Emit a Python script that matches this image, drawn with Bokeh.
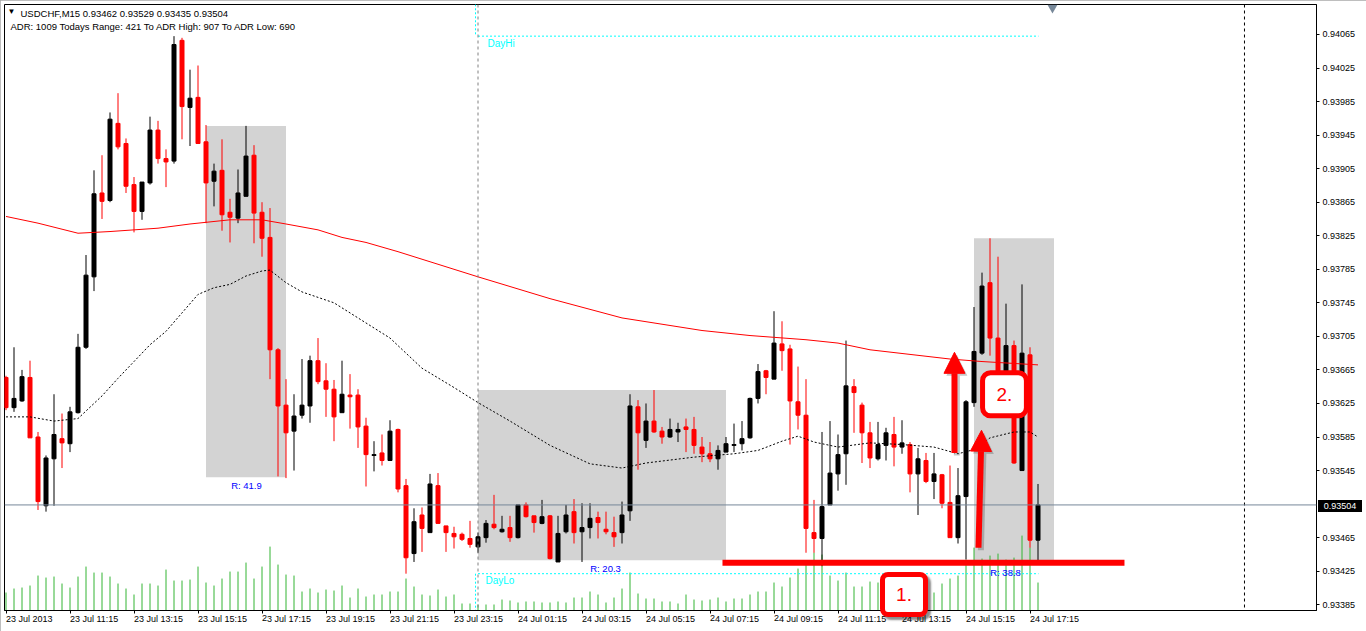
import numpy as np
from bokeh.plotting import figure
from bokeh.layouts import column
from bokeh.models import (ColumnDataSource, FixedTicker, PrintfTickFormatter, Range1d,
                          Span, Label, Arrow, NormalHead, Div)
from bokeh.core.properties import value
from bokeh.embed import file_html
from bokeh.resources import INLINE

FONT = "Liberation Sans"

# ---------------- data (USDCHF M15, 23 Jul 2013 09:15 -> 24 Jul 2013 17:30) ----------------
bar_open = [0.93656, 0.93620, 0.93628, 0.93656, 0.93585, 0.93503, 0.93559, 0.93583, 0.93577, 0.93614,
            0.93692, 0.93776, 0.93876, 0.93867, 0.93959, 0.93935, 0.93886, 0.93854, 0.93888, 0.93951,
            0.93917, 0.93914, 0.94058, 0.93978, 0.93990, 0.93937, 0.93890, 0.93903, 0.93853, 0.93846,
            0.93872, 0.93921, 0.93853, 0.93823, 0.93689, 0.93623, 0.93592, 0.93611, 0.93622, 0.93676,
            0.93652, 0.93642, 0.93614, 0.93635, 0.93635, 0.93598, 0.93563, 0.93566, 0.93557, 0.93594,
            0.93527, 0.93446, 0.93492, 0.93471, 0.93527, 0.93479, 0.93470, 0.93469, 0.93464, 0.93454,
            0.93465, 0.93481, 0.93472, 0.93477, 0.93465, 0.93504, 0.93491, 0.93482, 0.93491, 0.93436,
            0.93472, 0.93496, 0.93472, 0.93477, 0.93489, 0.93475, 0.93471, 0.93471, 0.93497, 0.93621,
            0.93581, 0.93604, 0.93592, 0.93585, 0.93591, 0.93597, 0.93594, 0.93573, 0.93565, 0.93559,
            0.93567, 0.93575, 0.93577, 0.93584, 0.93631, 0.93664, 0.93654, 0.93696, 0.93690, 0.93627,
            0.93611, 0.93471, 0.93464, 0.93504, 0.93541, 0.93565, 0.93645, 0.93623, 0.93590, 0.93559,
            0.93575, 0.93588, 0.93573, 0.93576, 0.93541, 0.93557, 0.93532, 0.93540, 0.93507, 0.93465,
            0.93514, 0.93626, 0.93685, 0.93769, 0.93703, 0.93647, 0.93694, 0.93545, 0.93683, 0.93462]
bar_high = [0.93658, 0.93692, 0.93665, 0.93676, 0.93591, 0.93563, 0.93636, 0.93613, 0.93621, 0.93708,
            0.93802, 0.93903, 0.93921, 0.93972, 0.93995, 0.93941, 0.93895, 0.93889, 0.93967, 0.93962,
            0.93928, 0.94063, 0.94061, 0.94023, 0.94028, 0.93957, 0.93911, 0.93940, 0.93869, 0.93904,
            0.93956, 0.93933, 0.93865, 0.93858, 0.93691, 0.93654, 0.93636, 0.93678, 0.93682, 0.93703,
            0.93673, 0.93653, 0.93676, 0.93660, 0.93642, 0.93608, 0.93580, 0.93588, 0.93605, 0.93595,
            0.93535, 0.93500, 0.93501, 0.93541, 0.93542, 0.93479, 0.93478, 0.93471, 0.93485, 0.93471,
            0.93486, 0.93516, 0.93491, 0.93491, 0.93504, 0.93507, 0.93491, 0.93510, 0.93492, 0.93491,
            0.93504, 0.93511, 0.93506, 0.93506, 0.93496, 0.93496, 0.93490, 0.93508, 0.93636, 0.93629,
            0.93625, 0.93641, 0.93597, 0.93607, 0.93602, 0.93607, 0.93609, 0.93585, 0.93579, 0.93575,
            0.93585, 0.93601, 0.93604, 0.93632, 0.93672, 0.93665, 0.93735, 0.93723, 0.93695, 0.93669,
            0.93654, 0.93510, 0.93591, 0.93604, 0.93588, 0.93700, 0.93654, 0.93626, 0.93603, 0.93603,
            0.93596, 0.93609, 0.93605, 0.93579, 0.93572, 0.93566, 0.93566, 0.93541, 0.93551, 0.93548,
            0.93629, 0.93740, 0.93781, 0.93822, 0.93800, 0.93744, 0.93700, 0.93767, 0.93692, 0.93529]
bar_low = [0.93617, 0.93615, 0.93627, 0.93584, 0.93498, 0.93496, 0.93503, 0.93548, 0.93567, 0.93613,
           0.93690, 0.93759, 0.93845, 0.93865, 0.93928, 0.93876, 0.93829, 0.93844, 0.93886, 0.93911,
           0.93883, 0.93911, 0.93940, 0.93932, 0.93935, 0.93840, 0.93860, 0.93831, 0.93817, 0.93840,
           0.93872, 0.93816, 0.93800, 0.93654, 0.93538, 0.93536, 0.93545, 0.93607, 0.93602, 0.93648,
           0.93609, 0.93580, 0.93614, 0.93595, 0.93572, 0.93526, 0.93544, 0.93551, 0.93557, 0.93519,
           0.93422, 0.93436, 0.93448, 0.93471, 0.93482, 0.93448, 0.93452, 0.93461, 0.93453, 0.93447,
           0.93459, 0.93475, 0.93471, 0.93460, 0.93464, 0.93489, 0.93471, 0.93481, 0.93439, 0.93436,
           0.93470, 0.93458, 0.93436, 0.93464, 0.93464, 0.93469, 0.93454, 0.93458, 0.93485, 0.93546,
           0.93572, 0.93590, 0.93577, 0.93584, 0.93579, 0.93567, 0.93565, 0.93555, 0.93555, 0.93546,
           0.93567, 0.93567, 0.93569, 0.93583, 0.93625, 0.93636, 0.93654, 0.93664, 0.93576, 0.93594,
           0.93447, 0.93447, 0.93431, 0.93504, 0.93521, 0.93528, 0.93590, 0.93554, 0.93548, 0.93557,
           0.93557, 0.93550, 0.93565, 0.93519, 0.93492, 0.93530, 0.93511, 0.93500, 0.93465, 0.93458,
           0.93439, 0.93621, 0.93683, 0.93682, 0.93629, 0.93629, 0.93553, 0.93545, 0.93453, 0.93435]
bar_close = [0.93620, 0.93631, 0.93657, 0.93584, 0.93508, 0.93560, 0.93588, 0.93578, 0.93615, 0.93692,
             0.93778, 0.93875, 0.93866, 0.93964, 0.93931, 0.93884, 0.93854, 0.93889, 0.93951, 0.93917,
             0.93913, 0.94053, 0.93979, 0.93989, 0.93935, 0.93888, 0.93902, 0.93850, 0.93847, 0.93876,
             0.93920, 0.93852, 0.93822, 0.93689, 0.93622, 0.93590, 0.93610, 0.93623, 0.93676, 0.93651,
             0.93642, 0.93609, 0.93636, 0.93633, 0.93597, 0.93564, 0.93564, 0.93557, 0.93592, 0.93523,
             0.93441, 0.93484, 0.93476, 0.93529, 0.93482, 0.93471, 0.93466, 0.93463, 0.93457, 0.93466,
             0.93482, 0.93477, 0.93475, 0.93465, 0.93504, 0.93490, 0.93483, 0.93490, 0.93440, 0.93470,
             0.93492, 0.93471, 0.93477, 0.93488, 0.93483, 0.93472, 0.93466, 0.93492, 0.93622, 0.93590,
             0.93604, 0.93591, 0.93585, 0.93594, 0.93594, 0.93594, 0.93575, 0.93565, 0.93559, 0.93569,
             0.93577, 0.93576, 0.93583, 0.93631, 0.93663, 0.93656, 0.93697, 0.93688, 0.93628, 0.93611,
             0.93476, 0.93464, 0.93502, 0.93542, 0.93564, 0.93646, 0.93638, 0.93590, 0.93560, 0.93576,
             0.93590, 0.93573, 0.93578, 0.93541, 0.93559, 0.93532, 0.93541, 0.93506, 0.93465, 0.93515,
             0.93627, 0.93687, 0.93765, 0.93703, 0.93647, 0.93694, 0.93554, 0.93685, 0.93462, 0.93504]
tick_volume = [360, 440, 460, 500, 700, 660, 680, 540, 460, 680,
               880, 760, 760, 680, 540, 440, 320, 540, 540, 500,
               820, 600, 600, 620, 880, 560, 500, 640, 780, 780,
               960, 640, 880, 1280, 920, 720, 700, 380, 440, 360,
               420, 400, 500, 260, 440, 280, 320, 320, 380, 380,
               640, 480, 320, 300, 420, 280, 320, 140, 140, 120,
               120, 120, 220, 200, 160, 180, 180, 160, 160, 180,
               160, 260, 260, 380, 320, 160, 260, 440, 760, 340,
               240, 240, 180, 180, 140, 320, 220, 200, 220, 260,
               180, 240, 240, 320, 380, 380, 560, 480, 660, 840,
               960, 1160, 1120, 700, 600, 760, 480, 480, 580, 560,
               420, 500, 540, 480, 520, 440, 360, 540, 640, 700,
               1020, 1260, 1040, 1100, 1140, 1020, 1060, 1500, 1260, 560]

# slow moving average (red) and fast moving average (black dotted), read at sample bars
ma_slow_bars = [0, 4, 9, 13, 19, 23, 28, 32, 35, 39, 42, 45, 49, 53, 59, 68, 77, 87, 93, 100, 104, 108, 118, 122, 129]
ma_slow = [0.93848, 0.93840, 0.93828, 0.93830, 0.93834, 0.93839, 0.93844, 0.93844, 0.93839, 0.93832,
           0.93823, 0.93817, 0.93806, 0.93794, 0.93776, 0.93750, 0.93727, 0.93712, 0.93706, 0.93701,
           0.93697, 0.93689, 0.93678, 0.93675, 0.93671]
ma_fast_bars = [0, 3, 6, 9, 10, 12, 14, 16, 18, 20, 22, 24, 26, 28, 30, 32, 33, 35, 37, 41, 44, 48, 52, 56,
                59, 63, 68, 73, 77, 80, 86, 91, 94, 97, 99, 101, 104, 108, 112, 116, 119, 121, 123, 126, 128, 129]
ma_fast = [0.93609, 0.93609, 0.93604, 0.93607, 0.93616, 0.93634, 0.93655, 0.93675, 0.93695, 0.93711,
           0.93733, 0.93755, 0.93763, 0.93767, 0.93777, 0.93783, 0.93784, 0.93769, 0.93758, 0.93745,
           0.93727, 0.93703, 0.93667, 0.93644, 0.93626, 0.93604, 0.93575, 0.93553, 0.93548, 0.93554,
           0.93561, 0.93565, 0.93569, 0.93580, 0.93586, 0.93579, 0.93573, 0.93578, 0.93576, 0.93573,
           0.93565, 0.93570, 0.93584, 0.93591, 0.93591, 0.93585]

time_tick_bars = [0, 8, 16, 24, 32, 40, 48, 56, 64, 72, 80, 88, 96, 104, 112, 120, 128]
time_tick_labels = ["23 Jul 2013", "23 Jul 11:15", "23 Jul 13:15", "23 Jul 15:15", "23 Jul 17:15",
                    "23 Jul 19:15", "23 Jul 21:15", "23 Jul 23:15", "24 Jul 01:15", "24 Jul 03:15",
                    "24 Jul 05:15", "24 Jul 07:15", "24 Jul 09:15", "24 Jul 11:15", "24 Jul 13:15",
                    "24 Jul 15:15", "24 Jul 17:15"]
price_ticks = [0.94065, 0.94025, 0.93985, 0.93945, 0.93905, 0.93865, 0.93825, 0.93785, 0.93745,
               0.93705, 0.93665, 0.93625, 0.93585, 0.93545, 0.93465, 0.93425, 0.93385]

# range boxes
box_start = [25, 59, 121]
box_end = [35, 90, 131]
box_high = [0.93956, 0.93641, 0.93822]
box_low = [0.93537, 0.93438, 0.93434]
box_text = ["R: 41.9", "R: 20.3", "R: 38.8"]

day_start_bar = 59
prev_day_high = 0.94063
prev_day_low = 0.93422
support_level = 0.93435
support_from_bar = 89.56
support_to_bar = 139.81
last_price = 0.93504
header1 = "USDCHF,M15  0.93462 0.93529 0.93435 0.93504"
header2 = "ADR: 1009  Todays Range: 421  To ADR High: 907  To ADR Low: 690"

# ---------------- figure ----------------
n = len(bar_open)
o = np.array(bar_open); c = np.array(bar_close)
hi = np.array(bar_high); lo = np.array(bar_low)
colors = np.where(c >= o, "black", "red")
src = ColumnDataSource(dict(x=np.arange(n), top=np.maximum(o, c), bottom=np.minimum(o, c),
                            high=hi, low=lo, color=colors, vol=np.array(tick_volume)))

p = figure(width=1366, height=631, x_range=Range1d(-0.1875, 163.8125),
           y_range=Range1d(0.9337812, 0.9410074), output_backend="svg", toolbar_location=None,
           y_axis_location="right", x_axis_location="below",
           min_border_left=4, min_border_top=4, min_border_right=50, min_border_bottom=20,
           background_fill_color="white", border_fill_color="white",
           outline_line_color="black",
           styles={"outline": "2px solid #a8a8a8", "outline-offset": "-2px"})
p.extra_y_ranges = {"vol": Range1d(0, 12140)}
p.xgrid.visible = False
p.ygrid.visible = False

for ax in (p.xaxis[0], p.yaxis[0]):
    ax.axis_line_color = "black"
    ax.major_tick_line_color = "black"
    ax.major_tick_in = 0
    ax.major_tick_out = 3
    ax.minor_tick_line_color = None
    ax.major_label_text_font = FONT
    ax.major_label_text_font_size = "9px"
    ax.major_label_text_color = "black"
p.yaxis[0].ticker = FixedTicker(ticks=price_ticks)
p.yaxis[0].formatter = PrintfTickFormatter(format="%.5f")
p.yaxis[0].major_label_standoff = 3
p.xaxis[0].ticker = FixedTicker(ticks=time_tick_bars)
p.xaxis[0].major_label_overrides = {b: t for b, t in zip(time_tick_bars, time_tick_labels)}
p.xaxis[0].major_label_standoff = 5
p.xaxis[0].major_label_orientation = -0.0001   # left-aligned labels starting at the tick

# range boxes
p.quad(left=box_start, right=box_end, top=box_high, bottom=box_low,
       fill_color="#D3D3D3", line_color=None)

# volumes
p.segment(x0="x", y0=0, x1="x", y1="vol", source=src, y_range_name="vol",
          line_color="#32B432", line_width=1)

# day separator and chart shift line
p.add_layout(Span(location=day_start_bar, dimension="height", line_color="#808080",
                  line_dash="3 3", line_width=1))
p.add_layout(Span(location=154.81, dimension="height", line_color="black",
                  line_dash="3 3", line_width=1))
p.add_layout(Span(location=last_price, dimension="width", line_color="#778899", line_width=1))

# prev day high / low lines
p.segment(x0=[day_start_bar, day_start_bar], x1=[129.06, 129.06],
          y0=[prev_day_high, prev_day_low], y1=[prev_day_high, prev_day_low],
          line_color="#00FFFF", line_dash="2 2", line_width=1)
p.segment(x0=[58.69, 58.69], x1=[58.69, 58.69], y0=[0.94101, prev_day_low], y1=[prev_day_high, 0.93378],
          line_color="#00FFFF", line_dash="2 2", line_width=1)
p.text(x=[60.19, 59.94], y=[0.940543, 0.934138], text=["DayHi", "DayLo"], text_color="#00FFFF",
       text_font=value(FONT), text_font_size="10px", text_baseline="middle", text_align="left")

# candles
p.segment(x0="x", y0="low", x1="x", y1="high", source=src, line_color="color", line_width=1)
p.vbar(x="x", width=0.5, top="top", bottom="bottom", source=src,
       fill_color="color", line_color="color", line_width=1)

# moving averages
p.line(ma_slow_bars, ma_slow, line_color="red", line_width=1)
p.line(ma_fast_bars, ma_fast, line_color="black", line_width=1, line_dash="2 2")

# range labels
p.text(x=[30.06, 74.94, 124.94], y=[b - 0.0001 for b in box_low], text=box_text,
       text_color="#0000FF", text_font=value(FONT), text_font_size="9.5px",
       text_baseline="middle", text_align="center")

# support line
p.segment(x0=[support_from_bar], x1=[support_to_bar], y0=[support_level], y1=[support_level],
          line_color="red", line_width=6)

# arrows (with soft shadow)
arrows = [(118.56, 0.93566, 118.56, 0.93686), (121.56, 0.93453, 121.94, 0.93593)]
for xs, ys, xe, ye in arrows:
    p.add_layout(Arrow(end=NormalHead(size=21, fill_color="#444444", fill_alpha=0.3, line_color=None),
                       x_start=xs + 0.3, y_start=ys - 0.00003, x_end=xe + 0.3, y_end=ye - 0.00003,
                       line_color="#444444", line_alpha=0.3, line_width=6))
    p.add_layout(Arrow(end=NormalHead(size=21, fill_color="red", line_color="red"),
                       x_start=xs, y_start=ys, x_end=xe, y_end=ye, line_color="red", line_width=6))

# numbered callout "2." (inside the chart)
p.add_layout(Label(x=124.81, y=0.93636, text="2.", x_offset=3, y_offset=-3, text_alpha=0,
                   text_align="center", text_baseline="middle", text_font=FONT,
                   text_font_size="19px", background_fill_color="#555555",
                   background_fill_alpha=0.35, border_line_color="#555555",
                   border_line_alpha=0.35, border_line_width=5, border_radius=8, padding=(14, 15)))
p.add_layout(Label(x=124.81, y=0.93636, text="2.", text_color="red", text_align="center",
                   text_baseline="middle", text_font=FONT, text_font_size="19px",
                   background_fill_color="white", border_line_color="red",
                   border_line_width=5, border_radius=8, padding=(14, 15)))

# chart shift marker
p.scatter(x=[130.81], y=[0.94097], marker="inverted_triangle", size=10,
          fill_color="#778899", line_color=None)

# header texts
p.add_layout(Label(x=0.69, y=0.94092, text="\u25BC", text_font=FONT, text_font_size="8px",
                   text_align="center", text_baseline="middle", text_color="black"))
p.add_layout(Label(x=1.81, y=0.94090, text=header1, text_font=FONT, text_font_size="9.5px",
                   text_align="left", text_baseline="middle", text_color="black"))
p.add_layout(Label(x=0.56, y=0.940751, text=header2, text_font=FONT, text_font_size="9.5px",
                   text_align="left", text_baseline="middle", text_color="black"))

# elements that sit over the chart border: current price tag and callout "1."
price_tag = Div(text="0.93504", width=44, height=12, margin=0,
                styles={"position": "absolute", "left": "1318px", "top": "500px",
                        "background-color": "black", "color": "white",
                        "font-family": FONT, "font-size": "9px", "line-height": "12px",
                        "text-align": "center", "z-index": "10", "overflow": "hidden"})
callout1 = Div(text="1.", width=48, height=45, margin=0,
               styles={"position": "absolute", "left": "880px", "top": "572px",
                       "box-sizing": "border-box", "border": "5px solid red",
                       "border-radius": "8px", "background-color": "white", "color": "red",
                       "font-family": FONT, "font-size": "19px", "line-height": "35px",
                       "text-align": "center", "z-index": "10",
                       "box-shadow": "3px 3px 2px rgba(0,0,0,0.45)", "overflow": "hidden"})

page = column(p, price_tag, callout1, width=1366, height=631, margin=0,
              styles={"position": "relative", "overflow": "hidden"})

open("out.html", "w").write(file_html(page, INLINE))
